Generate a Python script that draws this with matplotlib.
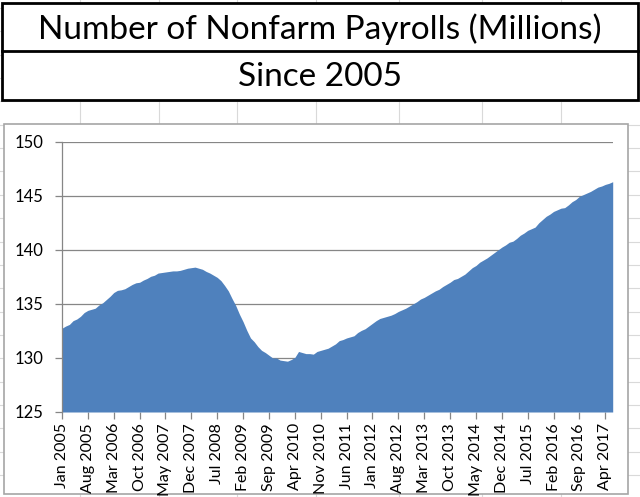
import matplotlib
matplotlib.use("Agg")
import matplotlib.pyplot as plt
from matplotlib.patches import Rectangle
import numpy as np
import pandas as pd

# nonfarm payrolls, millions, Jan 2005 .. Jun 2017
y2005 = [132.75, 132.95, 133.1, 133.45, 133.6, 133.85, 134.2, 134.4, 134.5, 134.6, 134.9, 135.1]
y2006 = [135.4, 135.7, 136.05, 136.25, 136.3, 136.4, 136.6, 136.8, 136.95, 137.0, 137.2, 137.35]
y2007 = [137.55, 137.65, 137.85, 137.9, 137.95, 138.0, 138.05, 138.05, 138.1, 138.2, 138.3, 138.35]
y2008 = [138.4, 138.3, 138.2, 138.0, 137.85, 137.65, 137.45, 137.15, 136.7, 136.2, 135.5, 134.85]
y2009 = [134.05, 133.35, 132.55, 131.85, 131.5, 131.05, 130.7, 130.5, 130.25, 130.0, 130.0, 129.8]
y2010 = [129.75, 129.7, 129.85, 130.05, 130.6, 130.5, 130.4, 130.4, 130.35, 130.6, 130.7, 130.8]
y2011 = [130.9, 131.1, 131.3, 131.6, 131.7, 131.85, 131.95, 132.05, 132.35, 132.55, 132.7, 132.95]
y2012 = [133.2, 133.45, 133.65, 133.75, 133.85, 133.95, 134.1, 134.3, 134.45, 134.6, 134.8, 135.0]
y2013 = [135.2, 135.45, 135.6, 135.8, 136.0, 136.2, 136.35, 136.6, 136.8, 137.0, 137.25, 137.35]
y2014 = [137.55, 137.75, 138.05, 138.35, 138.55, 138.85, 139.05, 139.25, 139.5, 139.75, 140.0, 140.25]
y2015 = [140.45, 140.7, 140.8, 141.05, 141.35, 141.55, 141.8, 141.95, 142.1, 142.5, 142.8, 143.1]
y2016 = [143.3, 143.55, 143.7, 143.85, 143.9, 144.15, 144.45, 144.65, 144.95, 145.1, 145.25, 145.4]
y2017 = [145.6, 145.8, 145.9, 146.05, 146.15, 146.3]

payrolls = (y2005 + y2006 + y2007 + y2008 + y2009 + y2010 + y2011
            + y2012 + y2013 + y2014 + y2015 + y2016 + y2017)
months = pd.date_range("2005-01-01", periods=len(payrolls), freq="MS")
month_labels = [d.strftime("%b %Y") for d in months]
label_step = 7

title_1 = "Number of Nonfarm Payrolls (Millions)"
title_2 = "Since 2005"

W, H = 640, 497
plt.rcParams["font.family"] = ["Lato", "DejaVu Sans"]
fig = plt.figure(figsize=(W / 100, H / 100), dpi=100)

# spreadsheet background
bg = fig.add_axes([0, 0, 1, 1])
bg.set_xlim(0, W)
bg.set_ylim(H, 0)
bg.axis("off")
cell_col = "#d9d9d9"
for cx in [80, 159, 237, 316, 399, 482, 561]:
    bg.plot([cx, cx], [0, H], color=cell_col, lw=0.8, zorder=0)
for ry in np.arange(8, H, 23.35):
    bg.plot([0, W], [ry, ry], color=cell_col, lw=0.8, zorder=0)

# title box
bg.add_patch(Rectangle((2, 3), 636, 97, facecolor="white", edgecolor="black", lw=2, zorder=2))
bg.plot([2, 638], [51, 51], color="black", lw=2, zorder=3)
bg.text(320, 29, title_1, ha="center", va="center", fontsize=24, zorder=4)
bg.text(320, 77, title_2, ha="center", va="center", fontsize=24, zorder=4)

# chart box
bg.add_patch(Rectangle((4, 124), 624, 370, facecolor="white", edgecolor="#a6a6a6", lw=1.2, zorder=2))

# plot area
ax = fig.add_axes([62 / W, 1 - 412 / H, (612.7 - 62) / W, (412 - 141.7) / H])
ax.set_facecolor("none")
x = np.arange(len(payrolls))
ax.fill_between(x, 125, payrolls, color="#4f81bd", lw=0, zorder=2)
ax.set_xlim(0, len(payrolls) - 1)
ax.set_ylim(125, 150)
ax.set_yticks(range(125, 151, 5))
ax.yaxis.grid(True, color="#868686", lw=0.9)
ax.set_axisbelow(True)
for s in ["top", "right", "bottom"]:
    ax.spines[s].set_visible(False)
ax.spines["left"].set_color("#868686")
ax.spines["left"].set_linewidth(0.9)
ax.set_xticks(x[::label_step])
ax.set_xticklabels(month_labels[::label_step], rotation=90, fontsize=11.5)
ax.tick_params(axis="both", color="#868686", length=5, width=0.9)
ax.tick_params(axis="y", pad=8, labelsize=12)
ax.tick_params(axis="x", pad=3)

fig.savefig("out.png", dpi=100)
